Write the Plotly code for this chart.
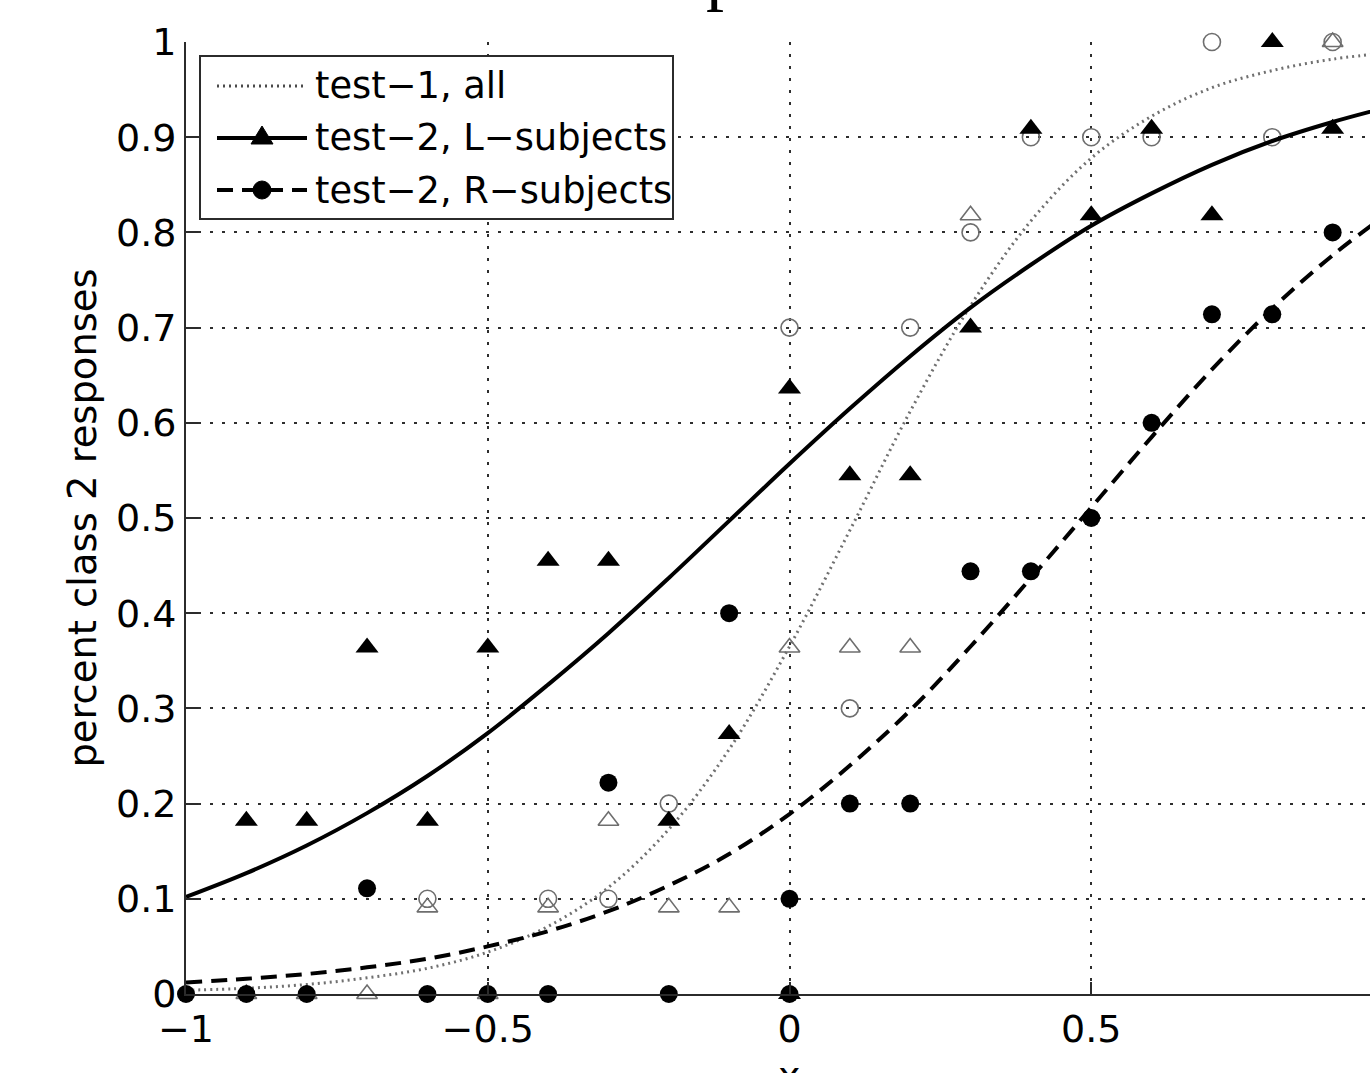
import plotly.graph_objects as go

# ---------------- data ----------------
fit_x = [-1.0, -0.9, -0.8, -0.7, -0.6, -0.5, -0.4, -0.3, -0.2, -0.1, 0.0,
         0.1, 0.2, 0.3, 0.4, 0.5, 0.6, 0.7, 0.8, 0.9, 1.0]
fit_test1_all = [0.004, 0.006, 0.010, 0.017, 0.027, 0.044, 0.071, 0.112, 0.173, 0.257, 0.365,
                 0.487, 0.612, 0.723, 0.812, 0.878, 0.922, 0.952, 0.970, 0.982, 0.989]
fit_test2_L = [0.102, 0.127, 0.156, 0.190, 0.229, 0.274, 0.325, 0.379, 0.437, 0.497, 0.557,
               0.615, 0.670, 0.721, 0.766, 0.807, 0.841, 0.871, 0.896, 0.916, 0.933]
fit_test2_R = [0.012, 0.016, 0.021, 0.028, 0.037, 0.050, 0.066, 0.087, 0.114, 0.147, 0.189,
               0.240, 0.298, 0.365, 0.437, 0.511, 0.585, 0.656, 0.720, 0.776, 0.824]

test1_circ_x = [-0.6, -0.4, -0.3, -0.2, 0.0, 0.1, 0.2, 0.3, 0.4, 0.5, 0.6, 0.7, 0.8, 0.9]
test1_circ_y = [0.1, 0.1, 0.1, 0.2, 0.7, 0.3, 0.7, 0.8, 0.9, 0.9, 0.9, 1.0, 0.9, 1.0]

test1_tri_x = [-0.9, -0.8, -0.7, -0.6, -0.5, -0.4, -0.3, -0.2, -0.1, 0.0, 0.1, 0.2, 0.3, 0.9]
test1_tri_y = [0.0, 0.0, 0.0, 0.091, 0.0, 0.091, 0.182, 0.091, 0.091, 0.364, 0.364, 0.364, 0.818, 1.0]

test2_L_x = [-0.9, -0.8, -0.7, -0.6, -0.5, -0.4, -0.3, -0.2, -0.1, 0.0, 0.0,
             0.1, 0.2, 0.3, 0.4, 0.5, 0.6, 0.7, 0.8, 0.9]
test2_L_y = [0.182, 0.182, 0.364, 0.182, 0.364, 0.455, 0.455, 0.182, 0.273, 0.636, 0.0,
             0.545, 0.545, 0.70, 0.909, 0.818, 0.909, 0.818, 1.0, 0.909]

test2_R_x = [-1.0, -0.9, -0.8, -0.7, -0.6, -0.5, -0.4, -0.3, -0.2, -0.1, 0.0, 0.0,
             0.1, 0.2, 0.3, 0.4, 0.5, 0.6, 0.7, 0.8, 0.9]
test2_R_y = [0.0, 0.0, 0.0, 0.111, 0.0, 0.0, 0.0, 0.222, 0.0, 0.4, 0.1, 0.0,
             0.2, 0.2, 0.444, 0.444, 0.5, 0.6, 0.714, 0.714, 0.8]

x_ticks = [-1, -0.5, 0, 0.5]
y_ticks = [0, 0.1, 0.2, 0.3, 0.4, 0.5, 0.6, 0.7, 0.8, 0.9, 1]
legend_labels = ["test\u22121, all", "test\u22122, L\u2212subjects", "test\u22122, R\u2212subjects"]

# ---------------- styling ----------------
W, H = 1370, 1073
ML, MR, MT, MB = 186, 0, 42, 79
FONT = "DejaVu Sans"
AX = "#2b2b2b"
GRAY = "#707070"
DOT = "2px,4px"
DASH = "16px,9px"

fig = go.Figure()

# open (gray) markers
fig.add_trace(go.Scatter(x=test1_tri_x, y=test1_tri_y, mode="markers", showlegend=False,
                         cliponaxis=False,
                         marker=dict(symbol="triangle-up-open", size=18, color="#6e6e6e",
                                     line=dict(width=1.6, color="#6e6e6e"))))
fig.add_trace(go.Scatter(x=test1_circ_x, y=test1_circ_y, mode="markers", showlegend=False,
                         cliponaxis=False,
                         marker=dict(symbol="circle-open", size=17, color="#6e6e6e",
                                     line=dict(width=1.6, color="#6e6e6e"))))

# fitted curves
fig.add_trace(go.Scatter(x=fit_x, y=fit_test1_all, mode="lines", line_shape="spline",
                         showlegend=False, line=dict(color=GRAY, width=3, dash=DOT)))
fig.add_trace(go.Scatter(x=fit_x, y=fit_test2_L, mode="lines", line_shape="spline",
                         showlegend=False, line=dict(color="black", width=4)))
fig.add_trace(go.Scatter(x=fit_x, y=fit_test2_R, mode="lines", line_shape="spline",
                         showlegend=False, line=dict(color="black", width=4, dash=DASH)))

# filled markers
fig.add_trace(go.Scatter(x=test2_R_x, y=test2_R_y, mode="markers", showlegend=False,
                         cliponaxis=False,
                         marker=dict(symbol="circle", size=18, color="black")))
fig.add_trace(go.Scatter(x=test2_L_x, y=test2_L_y, mode="markers", showlegend=False,
                         cliponaxis=False,
                         marker=dict(symbol="triangle-up", size=20, color="black")))

# ---------------- manual legend (MATLAB style) ----------------
pw, ph = W - ML - MR, H - MT - MB


def px(v):
    return (v - ML) / pw


def py(v):
    return (H - MB - v) / ph


shapes = [dict(type="rect", xref="paper", yref="paper", x0=px(200), x1=px(673),
               y0=py(219), y1=py(56), fillcolor="white", line=dict(color=AX, width=2),
               layer="above")]
rows = [86, 138, 190]
styles = [dict(color="#4a4a4a", width=3, dash=DOT), dict(color="black", width=4),
          dict(color="black", width=4, dash=DASH)]
for r, st in zip(rows, styles):
    shapes.append(dict(type="line", xref="paper", yref="paper", x0=px(217), x1=px(307),
                       y0=py(r), y1=py(r), line=st, layer="above"))
# triangle marker for row 2
cx, cy = 262, rows[1]
tri = "M {:.5f},{:.5f} L {:.5f},{:.5f} L {:.5f},{:.5f} Z".format(
    px(cx - 11), py(cy + 6), px(cx + 11), py(cy + 6), px(cx), py(cy - 12))
shapes.append(dict(type="path", xref="paper", yref="paper", path=tri,
                   fillcolor="black", line=dict(color="black", width=1), layer="above"))
# circle marker for row 3
cx, cy = 262, rows[2]
shapes.append(dict(type="circle", xref="paper", yref="paper", x0=px(cx - 9), x1=px(cx + 9),
                   y0=py(cy + 9), y1=py(cy - 9), fillcolor="black",
                   line=dict(color="black", width=1), layer="above"))

annotations = []
for r, lab in zip(rows, legend_labels):
    annotations.append(dict(xref="paper", yref="paper", x=px(313), y=py(r), text=lab,
                            showarrow=False, xanchor="left", yanchor="middle",
                            font=dict(family=FONT, size=36.8, color="black")))
# partially visible title glyph at the very top
annotations.append(dict(xref="paper", yref="paper", x=px(704), y=py(15), text="p",
                        showarrow=False, xanchor="left", yanchor="bottom",
                        font=dict(family="Liberation Serif", size=72, color="black")))
# x-axis label (only its top is inside the page)
annotations.append(dict(xref="paper", yref="paper", x=px(789), y=py(1052), text="x",
                        showarrow=False, xanchor="center", yanchor="top",
                        font=dict(family=FONT, size=38, color="black")))

axis_common = dict(
    showline=True, linecolor=AX, linewidth=2,
    ticks="inside", ticklen=12, tickwidth=2, tickcolor=AX,
    showgrid=True, gridcolor="#2e2e2e", gridwidth=1.5, griddash="3px,9px",
    zeroline=False, automargin=False,
    tickfont=dict(family=FONT, size=38, color="black"),
)

fig.update_layout(
    width=W, height=H,
    margin=dict(l=ML, r=MR, t=MT, b=MB, pad=0),
    paper_bgcolor="white", plot_bgcolor="white",
    showlegend=False,
    xaxis=dict(range=[-1, -1 + pw / 603.5], tickvals=x_ticks, **axis_common),
    xaxis2=dict(range=[-1, -1 + pw / 603.5], overlaying="x", side="top", tickvals=x_ticks,
                ticks="inside", ticklen=12, tickwidth=2, tickcolor=AX, showticklabels=False,
                showgrid=False, showline=False, zeroline=False, automargin=False),
    yaxis=dict(range=[0, 1], tickvals=y_ticks, **axis_common,
               title=dict(text="percent class 2 responses",
                          font=dict(family=FONT, size=38.5, color="black"), standoff=7)),
    shapes=shapes,
    annotations=annotations,
)

fig.write_html("out.html")
